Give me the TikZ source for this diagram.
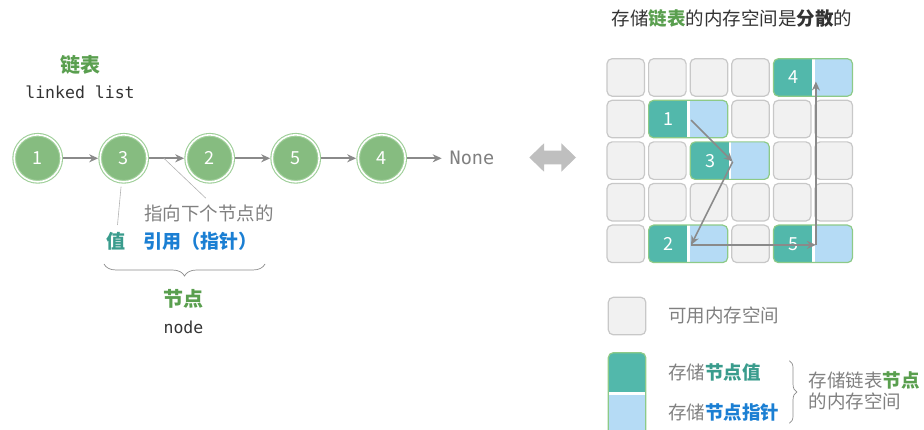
\documentclass[tikz,border=0pt]{standalone}
\usepackage{fontspec}
\setmainfont{Noto Sans CJK SC}
\setmonofont{DejaVu Sans Mono}
\usetikzlibrary{positioning,arrows.meta,decorations.pathreplacing}

\definecolor{nodegreen}{HTML}{86BC80}
\definecolor{ringgreen}{HTML}{9FCF99}
\definecolor{linkgray}{HTML}{8A8A8A}
\definecolor{valteal}{HTML}{52B8AB}
\definecolor{ptrblue}{HTML}{B5DBF5}
\definecolor{cellgray}{HTML}{F1F1F1}
\definecolor{celledge}{HTML}{C8C8C8}
\definecolor{blockedge}{HTML}{8DCA87}
\definecolor{txtgreen}{HTML}{5A9F4F}
\definecolor{txtteal}{HTML}{3A9C8D}
\definecolor{txtblue}{HTML}{1B7FD3}
\definecolor{txtgray}{HTML}{808080}
\definecolor{txtdark}{HTML}{333333}

\newcommand{\fsz}[1]{\fontsize{#1}{#1}\selectfont}
% one stored node: value part, then pointer part
\newcommand{\memblock}[3]{%
  \begin{scope}[shift={({607+41.6*#1},{58.7+41.6*#2})}]
    \begin{scope}
      \clip[rounded corners=5pt] (0,0) rectangle (79.1,37.5);
      \fill[valteal] (0,0) rectangle (39.9,37.5);
      \fill[ptrblue] (39.9,0) rectangle (79.1,37.5);
      \draw[white,line width=2.6pt] (39.9,0) -- (39.9,37.5);
    \end{scope}
    \draw[blockedge,line width=1.2pt,rounded corners=5pt] (0,0) rectangle (79.1,37.5);
    \node[val] (v#3) at (19.8,18.75) {#3};
    \coordinate (p#3) at (42.5,19.8);
  \end{scope}}

\begin{document}
\begin{tikzpicture}[x=1pt,y=-1pt,
    lnode/.style={circle,fill=nodegreen,draw=ringgreen,double=white,double distance=1.6pt,
      line width=1.1pt,minimum size=47pt,inner sep=0pt,outer sep=2pt,text=white,font=\fsz{18}},
    link/.style={draw=linkgray,line width=1.6pt,-{Stealth[length=9pt,width=8pt]}},
    note/.style={draw=black!30,line width=0.6pt},
    cell/.style={fill=cellgray,draw=celledge,line width=1.2pt,rounded corners=5pt},
    val/.style={text=white,font=\fsz{18}},
    curly/.style={draw=black!45,line width=0.7pt,decorate,decoration={brace,amplitude=#1}},
  ]
  \useasboundingbox (0,0) rectangle (924,430);

  % linked list
  \node[font=\bfseries\fsz{20},text=txtgreen] (listzh) at (80.7,65) {链表};
  \node[font=\ttfamily\fsz{16.5},text=txtdark] (listen) at (80,92.7) {linked list};
  \foreach \v [count=\i] in {1,3,2,5,4}
    \node[lnode] (c\i) at ({37.7+86*(\i-1)},158.3) {\v};
  \foreach \i/\j in {1/2,3/4,4/5}
    \draw[link] (c\i) -- (c\j);
  \draw[link] (c2) -- coordinate[pos=0.42] (ptr) (c3);
  \node[right=42.5pt of c5,inner sep=0pt,outer sep=0pt,font=\ttfamily\fsz{18.5},text=txtgray] (none) {None};
  \draw[link,shorten >=8pt] (c5) -- (none);

  % value and pointer of one node
  \node[font=\fsz{18.5},text=txtgray] (hint) at (209,213.3) {指向下个节点的};
  \node[font=\bfseries\fsz{19},text=txtteal] (valtxt) at (116,241) {值};
  \node[font=\bfseries\fsz{19},text=txtblue] (ptrtxt) at (200.5,241) {引用（指针）};
  \draw[note,shorten <=3pt,shorten >=3.5pt] (c2) -- (valtxt);
  \draw[note,shorten >=4.5pt] (ptr) -- (hint.north);
  \draw[curly=12pt] (265,264) -- (104,264);
  \node[font=\bfseries\fsz{20},text=txtgreen] (nodezh) at (183.5,299.3) {节点};
  \node[font=\ttfamily\fsz{16.5},text=txtdark] (nodeen) at (183.5,327) {node};

  \fill[black!25] (529.3,157.5) -- (544,143.3) -- (544,150.7) -- (561.3,150.7) -- (561.3,143.3)
    -- (576,157.5) -- (561.3,171.7) -- (561.3,164.3) -- (544,164.3) -- (544,171.7) -- cycle;

  % memory
  \node[font=\fsz{18.5},text=txtdark] (memtitle) at (731.8,18.3)
    {存储\textcolor{txtgreen}{\bfseries 链表}的内存空间是\textbf{分散}的};
  \foreach \c/\r in {0/0,1/0,2/0,3/0, 0/1,3/1,4/1,5/1, 0/2,1/2,4/2,5/2,
                     0/3,1/3,2/3,3/3,4/3,5/3, 0/4,3/4}
    \draw[cell] ({607+41.6*\c},{58.7+41.6*\r}) rectangle +(37.5,37.5);
  \memblock{4}{0}{4}
  \memblock{1}{1}{1}
  \memblock{2}{2}{3}
  \memblock{1}{4}{2}
  \memblock{4}{4}{5}
  \draw[link] (p1) -- (p3);
  \draw[link] (p3) -- (p2);
  \draw[link] (p2) -- (p5);
  \draw[link,shorten >=3pt] (p5) -- (p4);

  % legend
  \draw[cell] (608.3,297.3) rectangle +(37.5,37.5);
  \node[font=\fsz{18.5},text=txtgray,anchor=west,inner sep=0pt] (freekey) at (668,315) {可用内存空间};
  \begin{scope}
    \clip (600,345) rectangle (660,430);
    \begin{scope}
      \clip[rounded corners=5pt] (608.3,352.7) rectangle (645.8,445);
      \fill[valteal] (608.3,352.7) rectangle (645.8,393.7);
      \fill[ptrblue] (608.3,393.7) rectangle (645.8,445);
      \draw[white,line width=2.6pt] (608.3,393.7) -- (645.8,393.7);
    \end{scope}
    \draw[blockedge,line width=1.2pt,rounded corners=5pt] (608.3,352.7) rectangle (645.8,445);
  \end{scope}
  \node[font=\fsz{18.5},text=txtgray,anchor=west,inner sep=0pt] (valkey) at (668,372.7)
    {存储\textcolor{txtteal}{\bfseries 节点值}};
  \node[font=\fsz{18.5},text=txtgray,anchor=west,inner sep=0pt] (ptrkey) at (668,412.7)
    {存储\textcolor{txtblue}{\bfseries 节点指针}};
  \draw[curly=7.5pt] (789.3,360.7) -- (789.3,423.3);
  \node[font=\fontsize{18.5}{21.7}\selectfont,text=txtgray,anchor=west,inner sep=0pt,align=left] (keynote)
    at (808.3,390.8) {存储链表\textcolor{txtgreen}{\bfseries 节点}\\的内存空间};
\end{tikzpicture}
\end{document}
